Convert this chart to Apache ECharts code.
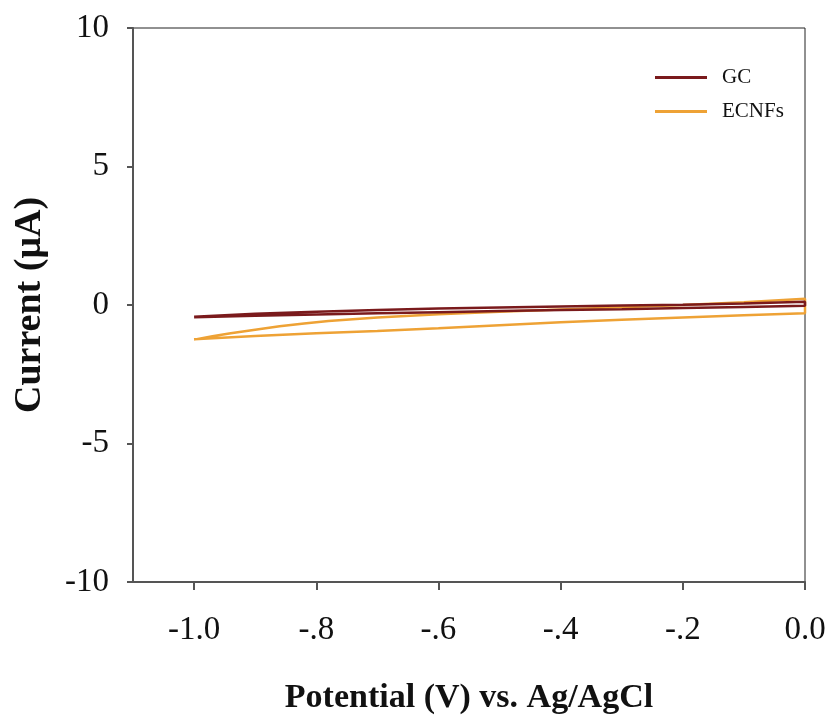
<!DOCTYPE html>
<html>
<head>
<meta charset="utf-8">
<script src="https://cdn.jsdelivr.net/npm/echarts@6/dist/echarts.min.js"></script>
<style>
  html, body { margin: 0; padding: 0; background: #fff; }
  #chart { width: 832px; height: 719px; }
</style>
</head>
<body>
<div id="chart"></div>
<script>
// Cyclic voltammograms: potential (V vs. Ag/AgCl) against current (µA)
const seriesNames = ['GC', 'ECNFs'];

// GC electrode: anodic sweep (-1.0 -> 0.0) then cathodic return (0.0 -> -1.0)
const gcPotential = [-1.0, -0.9, -0.8, -0.7, -0.6, -0.5, -0.4, -0.3, -0.2, -0.1, 0.0,
                     0.0, -0.1, -0.2, -0.3, -0.4, -0.5, -0.6, -0.7, -0.8, -0.9, -1.0];
const gcCurrent   = [-0.42, -0.32, -0.24, -0.18, -0.13, -0.09, -0.05, -0.02, 0.01, 0.05, 0.12,
                     -0.03, -0.07, -0.11, -0.15, -0.18, -0.22, -0.26, -0.30, -0.34, -0.39, -0.44];

// ECNFs electrode: anodic sweep then cathodic return
const ecnfPotential = [-1.0, -0.97, -0.94, -0.9, -0.86, -0.82, -0.78, -0.7, -0.6, -0.5, -0.4, -0.3, -0.2, -0.1, 0.0,
                       0.0, -0.1, -0.2, -0.3, -0.4, -0.5, -0.6, -0.7, -0.8, -0.9, -1.0];
const ecnfCurrent   = [-1.25, -1.13, -1.02, -0.89, -0.77, -0.67, -0.58, -0.45, -0.33, -0.24, -0.16, -0.08, 0.0, 0.1, 0.23,
                       -0.30, -0.37, -0.45, -0.53, -0.62, -0.73, -0.84, -0.94, -1.02, -1.12, -1.24];

// Axis ticks
const xTicks = [-1.0, -0.8, -0.6, -0.4, -0.2, 0.0];
const xTickLabels = ['-1.0', '-.8', '-.6', '-.4', '-.2', '0.0'];
const yTicks = [-10, -5, 0, 5, 10];

const colors = ['#7a1a1c', '#eea235'];

const pairs = (xs, ys) => xs.map((x, i) => [x, ys[i]]);

const serif = '"Liberation Serif", "Times New Roman", serif';

const chart = echarts.init(document.getElementById('chart'), null, { renderer: 'canvas' });

chart.setOption({
  animation: false,
  backgroundColor: '#ffffff',
  grid: {
    left: 133, right: 27, top: 28, bottom: 137,
    containLabel: false,
    outerBoundsMode: 'none',
    show: true, borderColor: '#222', borderWidth: 1, backgroundColor: 'transparent'
  },
  legend: {
    orient: 'vertical',
    left: 650, top: 62,
    itemWidth: 52, itemHeight: 3,
    itemGap: 13,
    icon: 'rect',
    data: seriesNames,
    textStyle: { fontFamily: serif, fontSize: 21, color: '#111', padding: [0, 0, 0, 10] }
  },
  xAxis: {
    type: 'value',
    min: -1.1, max: 0,
    name: 'Potential (V) vs. Ag/AgCl',
    nameLocation: 'middle',
    nameGap: 99,
    nameTextStyle: { fontFamily: serif, fontSize: 34, fontWeight: 'bold', color: '#111' },
    axisLine: { show: true, onZero: false, lineStyle: { color: '#555', width: 2 } },
    axisTick: { show: true, inside: false, length: 8, lineStyle: { color: '#555', width: 2 }, customValues: xTicks },
    axisLabel: {
      customValues: xTicks,
      margin: 32,
      fontFamily: serif, fontSize: 33, color: '#111',
      formatter: v => {
        const i = xTicks.findIndex(t => Math.abs(t - v) < 1e-6);
        return i >= 0 ? xTickLabels[i] : '';
      }
    },
    splitLine: { show: false }
  },
  yAxis: {
    type: 'value',
    min: -10, max: 10, interval: 5,
    name: 'Current (\u03bcA)',
    nameLocation: 'middle',
    nameGap: 84,
    nameRotate: 90,
    nameTextStyle: { fontFamily: serif, fontSize: 38, fontWeight: 'bold', color: '#111' },
    axisLine: { show: true, onZero: false, lineStyle: { color: '#555', width: 2 } },
    axisTick: { show: true, inside: false, length: 6, lineStyle: { color: '#555', width: 2 }, customValues: yTicks },
    axisLabel: {
      customValues: yTicks,
      margin: 24,
      fontFamily: serif, fontSize: 33, color: '#111'
    },
    splitLine: { show: false }
  },
  series: [
    {
      name: seriesNames[0],
      type: 'line',
      data: pairs(gcPotential, gcCurrent),
      showSymbol: false,
      smooth: false,
      lineStyle: { color: colors[0], width: 2.5 },
      itemStyle: { color: colors[0] },
      z: 3
    },
    {
      name: seriesNames[1],
      type: 'line',
      data: pairs(ecnfPotential, ecnfCurrent),
      showSymbol: false,
      smooth: false,
      lineStyle: { color: colors[1], width: 2.5 },
      itemStyle: { color: colors[1] },
      z: 2
    }
  ]
});
</script>
</body>
</html>
